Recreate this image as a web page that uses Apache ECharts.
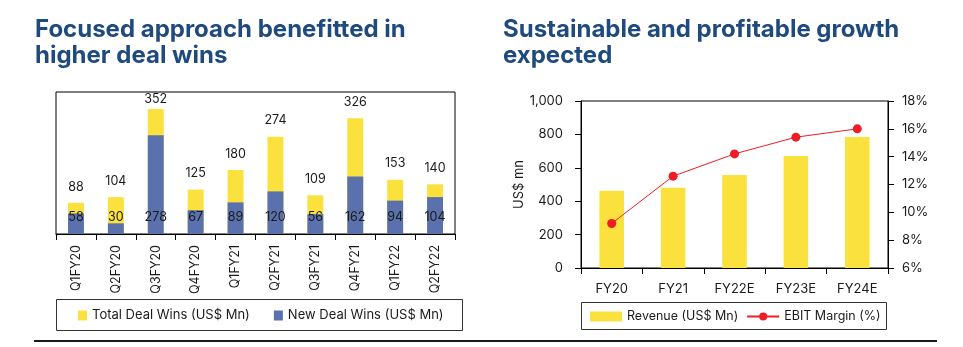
<!DOCTYPE html>
<html>
<head>
<meta charset="utf-8">
<script src="https://cdn.jsdelivr.net/npm/echarts@6/dist/echarts.min.js"></script>
<style>
  html, body { margin: 0; padding: 0; background: #fff; }
  #chart { width: 963px; height: 347px; }
</style>
</head>
<body>
<div id="chart"></div>
<script>
// Deal wins by quarter (US$ Mn)
const dealQuarters = ['Q1FY20', 'Q2FY20', 'Q3FY20', 'Q4FY20', 'Q1FY21', 'Q2FY21', 'Q3FY21', 'Q4FY21', 'Q1FY22', 'Q2FY22'];
const totalDealWins = [88, 104, 352, 125, 180, 274, 109, 326, 153, 140];
const newDealWins = [58, 30, 278, 67, 89, 120, 56, 162, 94, 104];

// Revenue and EBIT margin by fiscal year
const fiscalYears = ['FY20', 'FY21', 'FY22E', 'FY23E', 'FY24E'];
const revenue = [463, 481, 557, 671, 784];
const ebitMargin = [9.2, 12.6, 14.2, 15.4, 16.0];

const FONT = 'Inter';
const TEXT = '#1b1b1b';
const YELLOW = '#fae13e';
const BLUE = '#5a71ad';
const RED = '#ee1c24';
const TITLE_BLUE = '#1f4a7e';

const chart = echarts.init(document.getElementById('chart'), null, { renderer: 'canvas' });

const dealMax = Math.max(...totalDealWins);

chart.setOption({
  animation: false,
  backgroundColor: '#ffffff',
  textStyle: { fontFamily: FONT, color: TEXT },
  title: [
    {
      text: 'Focused approach benefitted in\nhigher deal wins',
      left: 35, top: 17, padding: 0,
      textStyle: { fontFamily: FONT, fontSize: 24, fontWeight: 'bold', color: TITLE_BLUE, lineHeight: 26 }
    },
    {
      text: 'Sustainable and profitable growth\nexpected',
      left: 503, top: 17, padding: 0,
      textStyle: { fontFamily: FONT, fontSize: 24, fontWeight: 'bold', color: TITLE_BLUE, lineHeight: 26 }
    }
  ],
  legend: [
    {
      left: 78, top: 309, padding: 0,
      icon: 'rect', itemWidth: 9, itemHeight: 10, itemGap: 24,
      textStyle: { fontFamily: FONT, fontSize: 13, color: TEXT },
      data: ['Total Deal Wins (US$ Mn)', 'New Deal Wins (US$ Mn)']
    },
    {
      left: 590, top: 310, padding: 0,
      itemWidth: 32, itemHeight: 10, itemGap: 8,
      textStyle: { fontFamily: FONT, fontSize: 12.5, color: TEXT },
      data: [
        { name: 'Revenue (US$ Mn)', icon: 'rect' },
        { name: 'EBIT Margin (%)' }
      ]
    }
  ],
  grid: [
    { left: 56, top: 92, width: 399, height: 142, show: true, borderColor: '#000', borderWidth: 1, backgroundColor: 'transparent' },
    { left: 581, top: 101, width: 307, height: 167, show: true, borderColor: '#000', borderWidth: 1, backgroundColor: 'transparent' }
  ],
  xAxis: [
    {
      gridIndex: 0, type: 'category', data: dealQuarters,
      axisLine: { lineStyle: { color: '#000', width: 1 } },
      axisTick: { show: true, length: 6, lineStyle: { color: '#000' } },
      axisLabel: { rotate: 90, margin: 11, fontFamily: FONT, fontSize: 12.5, color: TEXT }
    },
    {
      gridIndex: 1, type: 'category', data: fiscalYears,
      axisLine: { lineStyle: { color: '#000', width: 1 } },
      axisTick: { show: true, length: 6, lineStyle: { color: '#000' } },
      axisLabel: { margin: 15, fontFamily: FONT, fontSize: 13, color: TEXT }
    }
  ],
  yAxis: [
    {
      gridIndex: 0, type: 'value', min: 0, max: 400, show: false,
      splitLine: { show: false }
    },
    {
      gridIndex: 1, type: 'value', min: 0, max: 1000, interval: 200, position: 'left',
      name: 'US$ mn', nameLocation: 'middle', nameGap: 52,
      nameTextStyle: { fontFamily: FONT, fontSize: 13, color: TEXT },
      axisLine: { show: true, lineStyle: { color: '#000', width: 1 } },
      axisTick: { show: true, length: 6, lineStyle: { color: '#000' } },
      axisLabel: {
        margin: 18, fontFamily: FONT, fontSize: 13, color: TEXT,
        formatter: v => v.toLocaleString('en-US')
      },
      splitLine: { show: false }
    },
    {
      gridIndex: 1, type: 'value', min: 6, max: 18, interval: 2, position: 'right',
      axisLine: { show: true, lineStyle: { color: '#000', width: 1 } },
      axisTick: { show: true, length: 6, lineStyle: { color: '#000' } },
      axisLabel: { margin: 14, fontFamily: FONT, fontSize: 13, color: TEXT, formatter: '{value}%' },
      splitLine: { show: false }
    }
  ],
  series: [
    {
      name: 'Total Deal Wins (US$ Mn)', type: 'bar', xAxisIndex: 0, yAxisIndex: 0,
      barWidth: '40%', barGap: '-100%',
      itemStyle: { color: YELLOW },
      // the tallest bar keeps its label inside the plot frame
      data: totalDealWins.map(v => v === dealMax ? { value: v, label: { distance: 3 } } : v),
      label: { show: true, position: 'top', distance: 9.5, fontFamily: FONT, fontSize: 12.5, color: TEXT }
    },
    {
      name: 'New Deal Wins (US$ Mn)', type: 'bar', xAxisIndex: 0, yAxisIndex: 0,
      barWidth: '40%', barGap: '-100%',
      itemStyle: { color: BLUE },
      data: newDealWins,
      label: { show: true, position: 'insideBottom', distance: 10, fontFamily: FONT, fontSize: 12.5, color: TEXT }
    },
    {
      name: 'Revenue (US$ Mn)', type: 'bar', xAxisIndex: 1, yAxisIndex: 1,
      barWidth: '40%',
      itemStyle: { color: YELLOW },
      data: revenue
    },
    {
      name: 'EBIT Margin (%)', type: 'line', xAxisIndex: 1, yAxisIndex: 2,
      symbol: 'circle', symbolSize: 9,
      itemStyle: { color: RED },
      lineStyle: { color: RED, width: 1 },
      data: ebitMargin
    }
  ],
  graphic: [
    // legend frames
    { type: 'rect', shape: { x: 56.5, y: 299.5, width: 406, height: 31 }, style: { fill: 'none', stroke: '#333', lineWidth: 1 }, silent: true },
    { type: 'rect', shape: { x: 581.5, y: 302.5, width: 305, height: 27 }, style: { fill: 'none', stroke: '#333', lineWidth: 1 }, silent: true },
    // closing rule under both panels
    { type: 'line', shape: { x1: 34, y1: 341, x2: 937, y2: 341 }, style: { stroke: '#1a1a1a', lineWidth: 2 }, silent: true }
  ]
});
</script>
</body>
</html>
